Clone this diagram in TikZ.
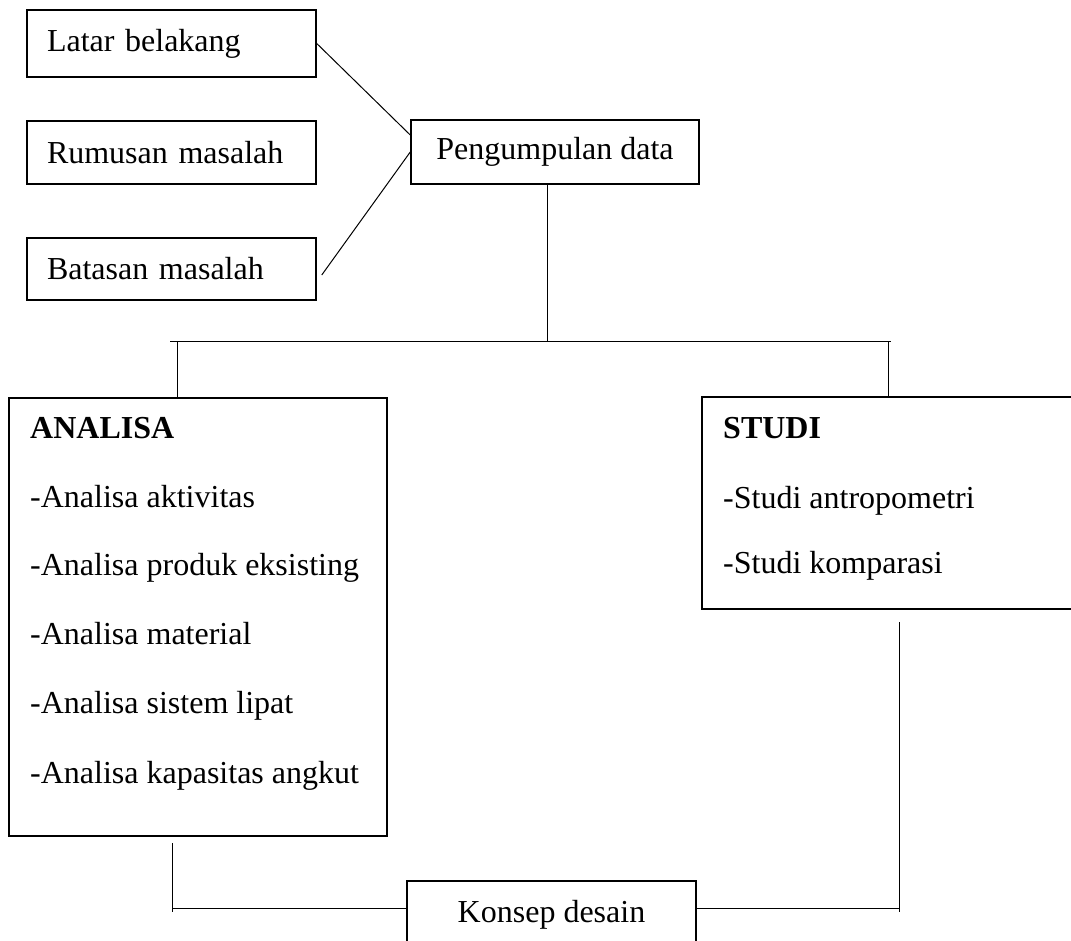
\documentclass[tikz,border=0pt]{standalone}
\usepackage{fontspec}
\setmainfont{Liberation Serif}
\usepackage{tikz}
\tikzset{kotak/.style={draw, line width=1.5pt, inner sep=0pt, font=\fontsize{32}{38}\selectfont}}
\tikzset{teks/.style={anchor=base west, inner sep=0pt, font=\fontsize{32}{38}\selectfont}}
\tikzset{garis/.style={line width=1pt}}

\begin{document}
\begin{tikzpicture}[x=1pt,y=-1pt]
    \useasboundingbox (0,0) rectangle (1071,940);
    \node[kotak, minimum width=289pt, minimum height=67pt, text width=249pt, align=left] (L) at (171.5,43.5) {Latar belakang};
    \node[kotak, minimum width=289pt, minimum height=63pt, text width=249pt, align=left] (R) at (171.5,152.5) {Rumusan masalah};
    \node[kotak, minimum width=289pt, minimum height=62pt, text width=249pt, align=left] (B) at (171.5,269) {Batasan masalah};
    \node[kotak, minimum width=288pt, minimum height=64pt] (P) at (555,152) {Pengumpulan data};
    \node[kotak, minimum width=378pt, minimum height=438pt] (A) at (198,617) {};
    \node[teks] (A0) at (30,438) {\textbf{ANALISA}};
    \node[teks] (A1) at (30,507) {-Analisa aktivitas};
    \node[teks] (A2) at (30,575) {-Analisa produk eksisting};
    \node[teks] (A3) at (30,644) {-Analisa material};
    \node[teks] (A4) at (30,713) {-Analisa sistem lipat};
    \node[teks] (A5) at (30,783) {-Analisa kapasitas angkut};
    \node[kotak, minimum width=373pt, minimum height=212pt] (S) at (888.5,503) {};
    \node[teks] (S0) at (723,438) {\textbf{STUDI}};
    \node[teks] (S1) at (723,508) {-Studi antropometri};
    \node[teks] (S2) at (723,573) {-Studi komparasi};
    \node[kotak, minimum width=289pt, minimum height=67pt] (K) at (551.5,914.5) {Konsep desain};
    % garis penghubung
    \draw[garis] (L.east) -- ([yshift=17pt]P.west);
    \draw[garis] ([xshift=5pt,yshift=-6pt]B.east) -- (P.west);
    \coordinate (T) at (547,341);
    \coordinate (T1) at (170,341);
    \coordinate (T2) at (891,341);
    \coordinate (TA) at (177,341);
    \coordinate (TS) at (888,341);
    \draw[garis] (T |- P.south) -- (T);
    \draw[garis] (T1) -- (T2);
    \draw[garis] (TA) -- (TA |- A.north);
    \draw[garis] (TS) -- (TS |- S.north);
    \coordinate (BA) at (172,843);
    \coordinate (BA2) at (172,912);
    \coordinate (BS) at (899,622);
    \coordinate (BS2) at (899,912);
    \draw[garis] (BA) -- (BA2);
    \draw[garis] (BS) -- (BS2);
    \draw[garis] (BA |- 0,908) -- ([yshift=6.5pt]K.west);
    \draw[garis] ([yshift=6.5pt]K.east) -- (BS |- 0,908);
  \end{tikzpicture}
\end{document}
